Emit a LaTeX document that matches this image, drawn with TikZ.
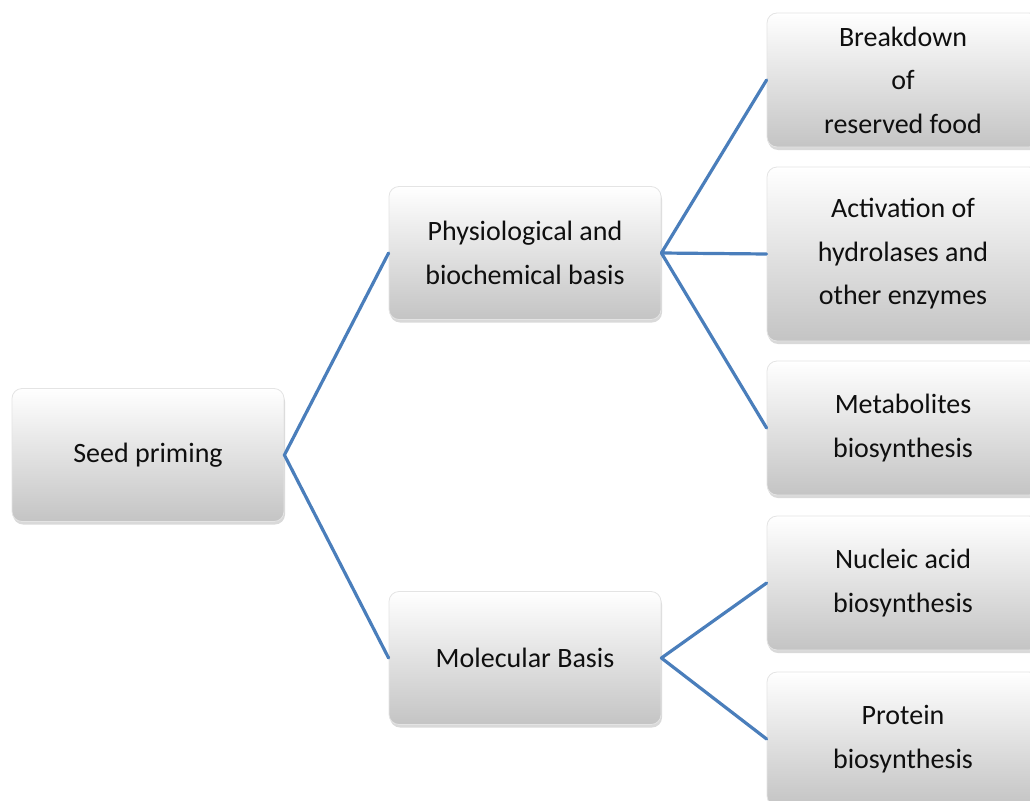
\documentclass[tikz,border=0pt]{standalone}
\usepackage{fontspec}
\setmainfont{Carlito}
\usetikzlibrary{shadows}
\definecolor{linkblue}{RGB}{74,126,187}
\definecolor{boxbot}{RGB}{196,196,196}
\definecolor{boxedge}{RGB}{228,228,228}
\definecolor{txt}{RGB}{15,15,15}
\tikzset{
  box/.style={rectangle, rounded corners=10pt, draw=boxedge, line width=0.8pt,
    top color=white, bottom color=boxbot,
    drop shadow={opacity=0.3, shadow xshift=1pt, shadow yshift=-3pt},
    align=center, inner sep=0pt, text=txt,
    font=\fontsize{28}{43.5}\selectfont},
  mainbox/.style={box, minimum width=272pt, minimum height=133pt},
  leafbox/.style={box, minimum width=272pt, minimum height=134pt},
  link/.style={draw=linkblue, line width=3.2pt, line cap=round, line join=round}
}
\begin{document}
\begin{tikzpicture}[x=1pt,y=-1pt]
\useasboundingbox (0,0) rectangle (1030,800);
\node[mainbox] (seed) at (148,455) {Seed priming};
\node[mainbox] (phys) at (525,253) {Physiological and\\biochemical basis};
\node[mainbox] (mol) at (525,658) {Molecular Basis};
\node[leafbox] (brk) at (903,80) {Breakdown\\of\\reserved food};
\node[leafbox, minimum height=174pt] (act) at (903,254) {Activation of\\hydrolases and\\other enzymes};
\node[leafbox] (met) at (903,428) {Metabolites\\biosynthesis};
\node[leafbox] (nuc) at (903,583) {Nucleic acid\\biosynthesis};
\node[leafbox] (pro) at (903,739) {Protein\\biosynthesis};
\draw[link] (phys.west) -- (seed.east) -- (mol.west);
\draw[link] (brk.west) -- (phys.east) -- (act.west);
\draw[link] (phys.east) -- (met.west);
\draw[link] (nuc.west) -- (mol.east) -- (pro.west);
\end{tikzpicture}
\end{document}
